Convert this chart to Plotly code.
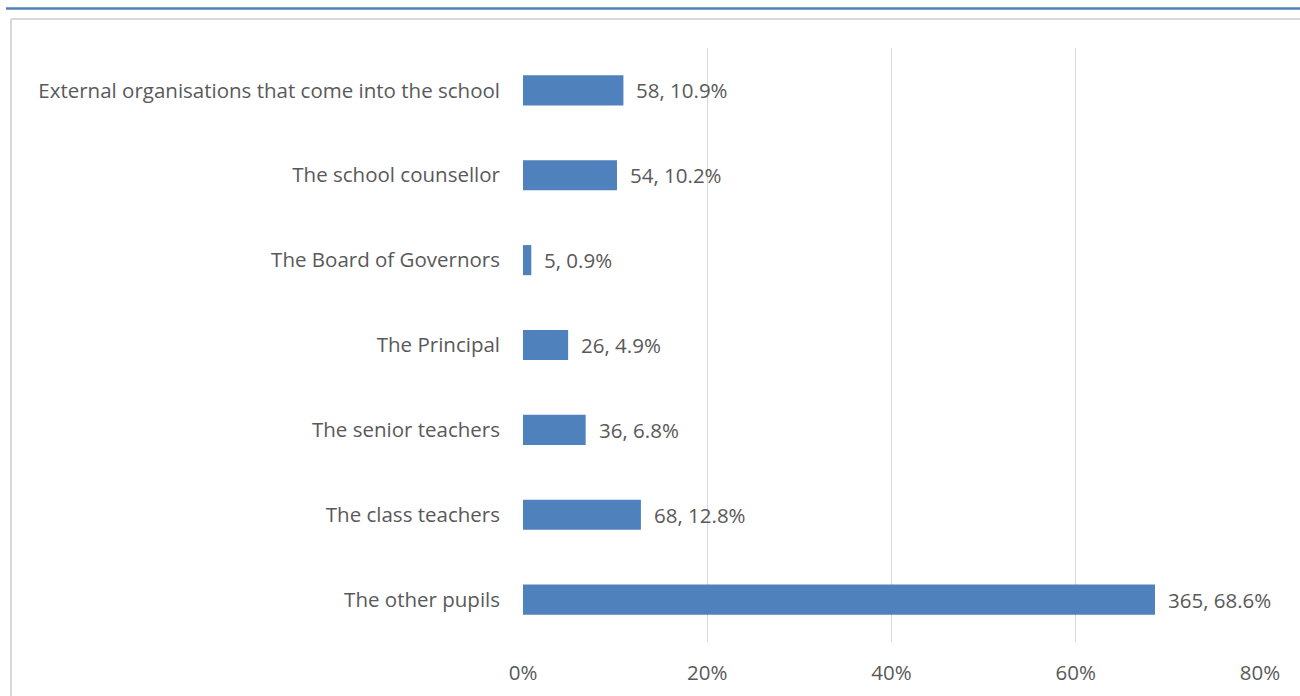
import plotly.graph_objects as go

categories = [
    "External organisations that come into the school",
    "The school counsellor",
    "The Board of Governors",
    "The Principal",
    "The senior teachers",
    "The class teachers",
    "The other pupils",
]
counts = [58, 54, 5, 26, 36, 68, 365]
percents = [10.9, 10.2, 0.9, 4.9, 6.8, 12.8, 68.6]
x_ticks = [0, 20, 40, 60, 80]

W, H = 1300, 696
ML, MR, MT, MB = 523, 40, 48, 53.5
PW, PH = W - ML - MR, H - MT - MB

def px_x(px):
    return (px - ML) / PW

def px_y(py):
    return (H - MB - py) / PH

FONT = "Open Sans"
FS = 20.5
GREY = "#595959"

fig = go.Figure()
fig.add_trace(go.Bar(
    x=percents,
    y=categories,
    orientation="h",
    width=0.355,
    marker=dict(color="#4F81BD", line=dict(width=0)),
    hoverinfo="skip",
))

for c, n, p in zip(categories, counts, percents):
    fig.add_annotation(
        x=p, y=c, text=f"{n}, {p}%", showarrow=False,
        xanchor="left", xshift=11, yanchor="middle",
        font=dict(family=FONT, size=FS, color=GREY),
    )

shapes = [
    dict(type="line", xref="paper", yref="paper",
         x0=px_x(6), x1=px_x(1300), y0=px_y(8.5), y1=px_y(8.5),
         line=dict(color="#4F81BD", width=2.5)),
    dict(type="line", xref="paper", yref="paper",
         x0=px_x(11), x1=px_x(1300), y0=px_y(19), y1=px_y(19),
         line=dict(color="#D9D9D9", width=2)),
    dict(type="line", xref="paper", yref="paper",
         x0=px_x(11), x1=px_x(11), y0=px_y(19), y1=px_y(700),
         line=dict(color="#D9D9D9", width=2)),
]

fig.update_layout(
    width=W, height=H,
    margin=dict(l=ML, r=MR, t=MT, b=MB, pad=0, autoexpand=False),
    paper_bgcolor="white", plot_bgcolor="white",
    showlegend=False,
    shapes=shapes,
    font=dict(family=FONT, size=FS, color=GREY),
    xaxis=dict(
        range=[0, 80], tickvals=x_ticks,
        ticktext=[f"{t}%" for t in x_ticks],
        showgrid=True, gridcolor="#D9D9D9", gridwidth=1,
        zeroline=False, showline=False, ticks="",
        tickfont=dict(family=FONT, size=FS, color=GREY),
        ticklabelstandoff=16,
        automargin=False,
        fixedrange=True,
    ),
    yaxis=dict(
        autorange="reversed", showgrid=False, zeroline=False,
        showline=False, ticks="",
        tickfont=dict(family=FONT, size=FS, color=GREY),
        ticklabelstandoff=22,
        automargin=False,
        fixedrange=True,
    ),
)

fig.write_html("out.html", config={"displayModeBar": False},
               post_script="document.body.style.margin='0';")
